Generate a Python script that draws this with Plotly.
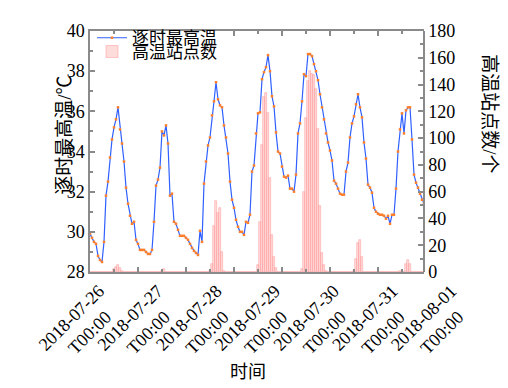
import plotly.graph_objects as go
import pandas as pd

# hourly maximum temperature (℃), 2018-07-26 00:00 .. 2018-08-01 23:00
temp = [
    29.9, 29.7, 29.5, 29.4, 28.8, 28.6, 28.5, 29.5, 31.8, 32.5, 33.7, 34.6,
    35.2, 35.6, 36.2, 35.1, 34.4, 33.5, 32.2, 31.4, 30.8, 30.4, 30.5, 29.6,
    29.4, 29.1, 29.1, 29.1, 29.0, 28.9, 28.9, 29.1, 30.5, 32.3, 32.6, 33.2,
    35.0, 34.8, 35.3, 34.4, 31.8, 31.9, 30.5, 30.4, 30.1, 29.8, 29.8, 29.8,
    29.7, 29.6, 29.4, 29.2, 29.05, 28.95, 28.85, 30.05, 29.5, 32.4, 33.5, 34.3,
    34.7, 35.8, 36.5, 37.45, 36.6, 36.3, 36.2, 35.3, 34.7, 33.9, 32.5, 31.6,
    31.2, 30.6, 30.25, 30.0, 30.0, 29.85, 30.5, 30.45, 30.85, 33.0, 33.3, 34.9,
    35.9, 35.95, 37.6, 37.95, 38.2, 38.8, 38.0, 36.75, 36.25, 34.95, 34.0, 33.9,
    33.25, 32.75, 32.7, 32.8, 32.15, 32.15, 32.0, 32.85, 34.9, 35.4, 36.5, 37.85,
    37.75, 38.85, 38.85, 38.75, 38.35, 38.0, 37.55, 36.85, 36.2, 35.6, 34.9, 34.45,
    34.05, 33.55, 32.55, 32.4, 32.15, 31.9, 31.85, 31.85, 33.0, 33.45, 34.7, 35.4,
    35.75, 36.35, 36.85, 36.2, 35.7, 34.45, 33.65, 32.35, 32.2, 31.95, 31.2, 31.0,
    30.9, 30.85, 30.85, 30.8, 30.65, 30.8, 30.4, 30.85, 30.85, 32.15, 34.0, 35.1,
    35.9, 34.9, 36.05, 36.2, 36.2, 34.6, 32.85, 32.45, 32.2, 31.9, 31.6, 31.4,
]

# number of high-temperature stations, same hours
stations = [0] * 168
station_hours = [12, 13, 14, 15, 16,
                 36, 37,
                 60, 61, 62, 63, 64, 65, 66, 67,
                 84, 85, 86, 87, 88, 89, 90, 91, 92, 93,
                 106, 107, 108, 109, 110, 111, 112, 113, 114, 115, 116, 117, 118,
                 132, 133, 134, 135, 136,
                 155, 158, 159, 160]
station_counts = [2, 4, 5, 3, 1,
                  1, 2,
                  1, 6, 34, 53, 44, 48, 15, 1,
                  5, 37, 95, 131, 134, 119, 70, 28, 11, 3,
                  2, 60, 115, 143, 150, 148, 147, 137, 107, 49, 14, 5, 1,
                  1, 10, 22, 24, 11,
                  1, 6, 9, 6]
for h, c in zip(station_hours, station_counts):
    stations[h] = c

times = pd.date_range("2018-07-26 00:00", periods=168, freq="h")
day_ticks = pd.date_range("2018-07-26", periods=7, freq="D")
day_labels = [d.strftime("%Y-%m-%d") + "<br>T00:00\u00a0\u00a0\u00a0" for d in day_ticks]

FONT = "Liberation Serif, Times New Roman, Noto Sans CJK SC"
GREY = "#8a8a8a"

# page geometry (the html body adds an 8px margin)
OFF = 8
W, H = 508 - OFF, 388 - OFF
PL, PR, PT, PB = 90, 424, 26, 272          # plot edges in page pixels
L, T = PL - OFF, PT - OFF
R = 40
B = H - (PB - OFF)
pw = W - L - R
ph = H - T - B
d = (PR - PL) / pw  # main x-domain end


def fx(px):
    return (px - PL) / pw


def fy(py):
    return (PB - py) / ph


fig = go.Figure()
fig.add_trace(go.Bar(
    x=times, y=stations, name="高温站点数", yaxis="y", xaxis="x",
    width=3600000 * 0.6,
    marker=dict(color="rgba(255,185,185,0.5)", line=dict(color="rgba(255,140,140,0.75)", width=0.6)),
    legend="legend2",
))
fig.add_trace(go.Scatter(
    x=times, y=temp, name="逐时最高温", yaxis="y2", xaxis="x",
    mode="lines+markers",
    line=dict(color="#3060ff", width=1.2),
    marker=dict(color="#ff7f2a", size=2.5, symbol="square", line=dict(width=0)),
    legend="legend",
))
# carrier for the date tick labels (no visible marks)
fig.add_trace(go.Scatter(
    x=list(day_ticks), y=[None] * len(day_ticks), xaxis="x2", yaxis="y",
    mode="markers", showlegend=False, hoverinfo="skip",
))

t0 = pd.Timestamp("2018-07-26")
lab_spacing = 58.7  # px per label
A = 99.0
r0 = t0 - pd.Timedelta(days=(A - PL) / lab_spacing)
r1 = r0 + pd.Timedelta(days=pw / lab_spacing)

fig.update_layout(
    width=W, height=H,
    margin=dict(l=L, r=R, t=T, b=B),
    paper_bgcolor="white", plot_bgcolor="rgba(0,0,0,0)",
    font=dict(family=FONT, size=18, color="black"),
    bargap=0,
    xaxis=dict(
        type="date", domain=[0, d], anchor="y",
        range=[times[0], times[-1]],
        showline=True, linecolor=GREY, linewidth=1.5, mirror="ticks",
        ticks="inside", ticklen=5, tickcolor=GREY, tickwidth=1.5,
        tick0="2018-07-26", dtick=86400000,
        minor=dict(ticks="inside", ticklen=3, dtick=43200000, tickcolor=GREY),
        showticklabels=False, showgrid=False, zeroline=False,
    ),
    xaxis2=dict(
        type="date", domain=[0, 1], anchor="free", position=0,
        range=[r0, r1],
        tickvals=list(day_ticks), ticktext=day_labels,
        tickangle=-45, ticks="", showline=False, showgrid=False, zeroline=False,
        tickfont=dict(size=18), ticklabelstandoff=4,
    ),
    yaxis=dict(
        range=[0, 180], side="right", anchor="free", position=d,
        showline=True, linecolor=GREY, linewidth=1.5,
        ticks="inside", ticklen=5, tickcolor=GREY, tickwidth=1.5,
        dtick=20, minor=dict(ticks="inside", ticklen=3, dtick=10, tickcolor=GREY),
        showgrid=False, zeroline=False,
    ),
    yaxis2=dict(
        range=[28, 40], side="left", overlaying="y", anchor="x",
        showline=True, linecolor=GREY, linewidth=1.5,
        ticks="inside", ticklen=5, tickcolor=GREY, tickwidth=1.5,
        dtick=2, minor=dict(ticks="inside", ticklen=3, dtick=1, tickcolor=GREY),
        showgrid=False, zeroline=False,
    ),
    legend=dict(x=fx(92), y=fy(15), xanchor="left", yanchor="top", bgcolor="rgba(0,0,0,0)",
                font=dict(size=17), itemwidth=30),
    legend2=dict(x=fx(92), y=fy(29), xanchor="left", yanchor="top", bgcolor="rgba(0,0,0,0)",
                 font=dict(size=17), itemwidth=30),
    showlegend=True,
    annotations=[
        dict(text="逐时最高温/℃", xref="paper", yref="paper", x=fx(65), y=fy(133),
             xanchor="center", yanchor="middle",
             textangle=-90, showarrow=False, font=dict(size=19)),
        dict(text="高温站点数/个", xref="paper", yref="paper", x=fx(490), y=fy(110),
             xanchor="center", yanchor="middle",
             textangle=90, showarrow=False, font=dict(size=19)),
        dict(text="时间", xref="paper", yref="paper", x=fx(248), y=fy(374),
             xanchor="center", yanchor="middle",
             showarrow=False, font=dict(size=18)),
    ],
)

fig.write_html("out.html")
